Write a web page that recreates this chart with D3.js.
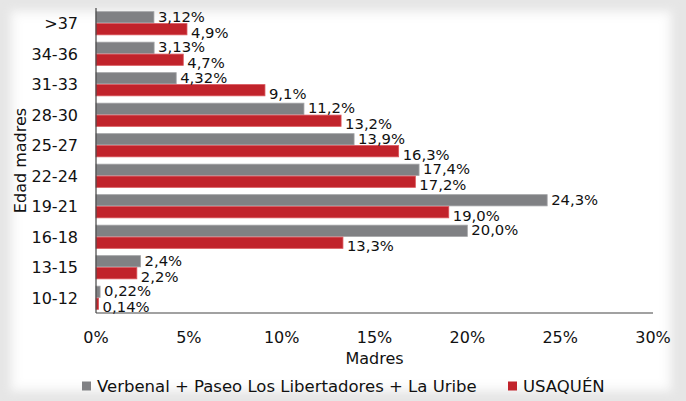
<!DOCTYPE html>
<html>
<head>
<meta charset="utf-8">
<script src="https://cdn.jsdelivr.net/npm/d3@7"></script>
<style>
  html, body { margin: 0; padding: 0; background: #e6e6e6; }
  #chart { width: 686px; height: 401px; }
  text { font-family: 'DejaVu Sans', Verdana, sans-serif; fill: #111; }
</style>
</head>
<body>
<div id="chart"></div>
<script>
const AGES = ['>37', '34-36', '31-33', '28-30', '25-27', '22-24', '19-21', '16-18', '13-15', '10-12'];
const SERIES = ['Verbenal + Paseo Los Libertadores + La Uribe', 'USAQUÉN'];
const VERBENAL = [3.12, 3.13, 4.32, 11.2, 13.9, 17.4, 24.3, 20.0, 2.4, 0.22];
const USAQUEN = [4.9, 4.7, 9.1, 13.2, 16.3, 17.2, 19.0, 13.3, 2.2, 0.14];
const LABELS_V = ['3,12%', '3,13%', '4,32%', '11,2%', '13,9%', '17,4%', '24,3%', '20,0%', '2,4%', '0,22%'];
const LABELS_U = ['4,9%', '4,7%', '9,1%', '13,2%', '16,3%', '17,2%', '19,0%', '13,3%', '2,2%', '0,14%'];
const X_TICKS = [0, 5, 10, 15, 20, 25, 30];
const COLORS = ['#808184', '#c1232b'];

const W = 686, H = 401, M = { t: 8, r: 33, b: 88, l: 96 };
const svg = d3.select('#chart').append('svg').attr('width', W).attr('height', H);

// soft white panel
const defs = svg.append('defs');
defs.append('filter').attr('id', 'soft').attr('x', '-5%').attr('y', '-5%').attr('width', '110%').attr('height', '110%')
  .append('feGaussianBlur').attr('stdDeviation', 4);
svg.append('rect').attr('x', 10).attr('y', 10).attr('width', 662).attr('height', 382).attr('fill', '#f6f6f6').attr('filter', 'url(#soft)');
svg.append('rect').attr('x', 16).attr('y', 16).attr('width', 650).attr('height', 370).attr('fill', '#fff').attr('filter', 'url(#soft)');

const x = d3.scaleLinear().domain([0, 30]).range([M.l, W - M.r]);
const y = d3.scaleBand().domain(AGES).range([M.t, H - M.b]).paddingInner(0.24).paddingOuter(0.12);
const y2 = d3.scaleBand().domain([0, 1]).range([0, y.bandwidth()]).paddingInner(0.06);

const rows = AGES.map((a, i) => ({ age: a, vals: [VERBENAL[i], USAQUEN[i]], labs: [LABELS_V[i], LABELS_U[i]] }));

const g = svg.append('g').selectAll('g').data(rows).enter().append('g').attr('transform', d => `translate(0,${y(d.age)})`);
g.selectAll('rect').data(d => d.vals.map((v, k) => ({ v, k }))).enter().append('rect')
  .attr('x', x(0)).attr('y', d => y2(d.k)).attr('width', d => x(d.v) - x(0)).attr('height', y2.bandwidth())
  .attr('fill', d => COLORS[d.k]).attr('stroke', d => d.k ? '#d9545a' : '#a2a3a6').attr('stroke-width', 0.8);
g.selectAll('text.val').data(d => d.vals.map((v, k) => ({ v, k, lab: d.labs[k] }))).enter().append('text').attr('class', 'val')
  .attr('x', d => x(d.v) + 4).attr('y', d => y2(d.k) + y2.bandwidth() / 2 + (d.k ? 3 : -1))
  .attr('dy', '0.36em').style('font-size', '14.8px').text(d => d.lab);

// axes
svg.append('line').attr('x1', x(0)).attr('x2', x(0)).attr('y1', M.t).attr('y2', H - M.b).attr('stroke', '#444').attr('stroke-width', 1.2);
svg.append('line').attr('x1', x(0)).attr('x2', x(30)).attr('y1', H - M.b).attr('y2', H - M.b).attr('stroke', '#444').attr('stroke-width', 1.2);

svg.append('g').selectAll('text').data(AGES).enter().append('text')
  .attr('x', 78).attr('y', d => y(d) + y.bandwidth() / 2).attr('dy', '0.36em').attr('text-anchor', 'end')
  .style('font-size', '16px').text(d => d);

svg.append('g').selectAll('text').data(X_TICKS).enter().append('text')
  .attr('x', d => x(d)).attr('y', 337).attr('dy', '0.36em').attr('text-anchor', 'middle')
  .style('font-size', '16px').text(d => d + '%');

svg.append('text').attr('x', (x(0) + x(30)) / 2).attr('y', 358).attr('dy', '0.36em').attr('text-anchor', 'middle')
  .style('font-size', '16px').text('Madres');
svg.append('text').attr('transform', `translate(20,${(M.t + H - M.b) / 2}) rotate(-90)`).attr('dy', '0.36em')
  .attr('text-anchor', 'middle').style('font-size', '16px').text('Edad madres');

// legend
const legX = [82, 508];
const leg = svg.append('g').selectAll('g').data(SERIES).enter().append('g').attr('transform', (d, i) => `translate(${legX[i]},386)`);
leg.append('rect').attr('x', 0).attr('y', -4.5).attr('width', 9).attr('height', 9).attr('fill', (d, i) => COLORS[i]);
leg.append('text').attr('x', 15).attr('dy', '0.36em').style('font-size', '16.5px').text(d => d);
</script>
</body>
</html>
